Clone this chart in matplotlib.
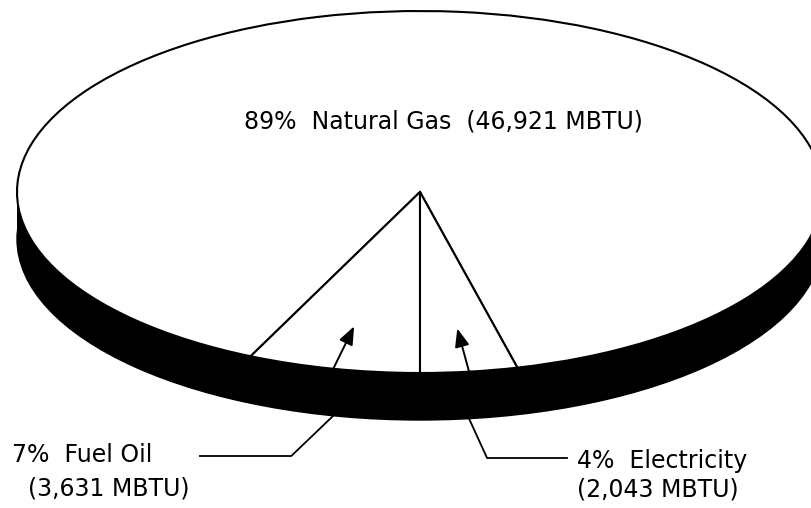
"""
3D pie chart (black & white) of the energy use by source, in MBTU.
Saves out.png at 811x508 px.
"""

import numpy as np
import matplotlib
matplotlib.use("Agg")
import matplotlib.pyplot as plt
from matplotlib.patches import Ellipse, Rectangle

# ---------------------------------------------------------------------------
# Data
# ---------------------------------------------------------------------------
SOURCES = ["Natural Gas", "Fuel Oil", "Electricity"]
PERCENTS = [89, 7, 4]
MBTU = [46921, 3631, 2043]

# ---------------------------------------------------------------------------
# Layout (pixels)
# ---------------------------------------------------------------------------
W_PX, H_PX = 811, 508
CX, CY = 420, 192        # centre of the top face
A, B = 403, 181          # semi axes of the top face
DEPTH = 47               # thickness of the black side
FONT = 17


def px(x, y):
    """pixel (from top-left) -> data coords (unit = semi axis)"""
    return (x - CX) / A, (CY - y) / B


def main():
    fig = plt.figure(figsize=(W_PX / 100, H_PX / 100), dpi=100)
    ax = fig.add_axes([0, 0, 1, 1])
    d = DEPTH / B

    # side of the pie: bottom face + band, all black
    ax.add_patch(Ellipse((0, -d), 2, 2, facecolor="black", edgecolor="black"))
    ax.add_patch(Rectangle((-1, -d), 2, d, facecolor="black", edgecolor="none"))

    # top face, counter clockwise: gas, fuel oil (left of bottom),
    # electricity (right of bottom)
    total = sum(MBTU)
    start = 270 - 360 * (MBTU[0] + MBTU[1]) / total
    wedges, _ = ax.pie(MBTU, startangle=start, counterclock=True,
                       radius=1, center=(0, 0), colors=["white"] * 3,
                       wedgeprops=dict(edgecolor="black", linewidth=1.5))

    # pie forces a circle -> let it stretch into the ellipse
    ax.set_aspect("auto")
    x0, y0 = px(0, H_PX)
    x1, y1 = px(W_PX, 0)
    ax.set_xlim(x0, x1)
    ax.set_ylim(y0, y1)
    ax.axis("off")

    # label of the big slice, on the top face
    ax.text(*px(443, 129),
            f"{PERCENTS[0]}%  {SOURCES[0]}  ({MBTU[0]:,} MBTU)",
            ha="center", va="baseline", fontsize=FONT)

    # small slices: arrow into the slice + leader line to the label
    leader = {1: (-42, 456, 200), 2: (18, 458, 567)}
    for i in (1, 2):
        w = wedges[i]
        mid = np.deg2rad((w.theta1 + w.theta2) / 2)
        c, s = np.cos(mid), np.sin(mid)
        ax.annotate("", xy=(0.76 * c, 0.76 * s), xytext=(c, s),
                    arrowprops=dict(arrowstyle="-|>,head_length=0.55,head_width=0.22",
                                    color="black", lw=1.4,
                                    mutation_scale=20, shrinkA=0, shrinkB=0))

        dx, y_line, x_end = leader[i]
        sx, sy = c, s - d
        ex, ey = sx + dx / A, px(0, y_line)[1]
        ax.plot([sx, ex, px(x_end, 0)[0]], [sy, ey, ey],
                color="black", lw=1.3)

    ax.text(*px(12, 462), f"{PERCENTS[1]}%  {SOURCES[1]}",
            ha="left", va="baseline", fontsize=FONT)
    ax.text(*px(28, 495), f"({MBTU[1]:,} MBTU)",
            ha="left", va="baseline", fontsize=FONT)
    ax.text(*px(577, 468), f"{PERCENTS[2]}%  {SOURCES[2]}",
            ha="left", va="baseline", fontsize=FONT)
    ax.text(*px(577, 496), f"({MBTU[2]:,} MBTU)",
            ha="left", va="baseline", fontsize=FONT)

    fig.savefig("out.png", dpi=100, facecolor="white")
    plt.close(fig)


if __name__ == "__main__":
    main()
